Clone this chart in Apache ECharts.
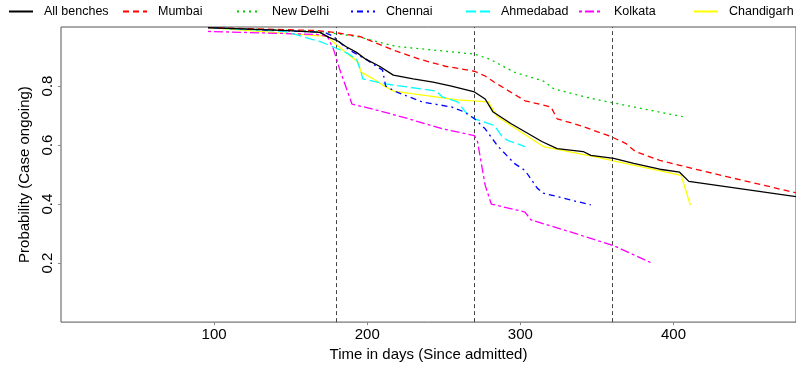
<!DOCTYPE html>
<html>
<head>
<meta charset="utf-8">
<script src="https://cdn.jsdelivr.net/npm/echarts@6/dist/echarts.min.js"></script>
<style>
  html, body { margin: 0; padding: 0; background: #fff; }
  #chart { width: 796px; height: 367px; }
</style>
</head>
<body>
<div id="chart"></div>
<script>
// survival curves, [day, probability]
const allBenches = [[96,0.998],[148,0.988],[169,0.982],[175,0.965],[180,0.955],[186,0.934],[193,0.914],[199,0.891],[208,0.867],[217,0.837],[230,0.824],[243,0.813],[255,0.800],[270,0.780],[277,0.756],[282,0.713],[294,0.672],[305,0.639],[314,0.612],[324,0.588],[341,0.578],[346,0.565],[361,0.555],[374,0.538],[391,0.518],[404,0.508],[410,0.477],[480,0.425]];
const mumbai = [[96,0.998],[167,0.988],[178,0.982],[195,0.968],[208,0.941],[219,0.918],[234,0.891],[251,0.867],[270,0.850],[277,0.834],[283,0.813],[303,0.750],[320,0.729],[324,0.689],[339,0.666],[359,0.629],[369,0.605],[375,0.578],[391,0.548],[412,0.521],[434,0.494],[480,0.438]];
const newDelhi = [[96,0.998],[169,0.985],[193,0.968],[219,0.934],[245,0.921],[270,0.908],[280,0.891],[296,0.847],[315,0.817],[322,0.790],[348,0.756],[380,0.723],[406,0.696]];
const chennai = [[96,0.998],[172,0.982],[178,0.968],[185,0.934],[191,0.914],[199,0.891],[206,0.867],[210,0.854],[212,0.800],[219,0.780],[236,0.746],[255,0.729],[263,0.713],[270,0.689],[277,0.655],[285,0.598],[296,0.538],[303,0.514],[311,0.454],[315,0.437],[346,0.397]];
const ahmedabad = [[96,0.998],[146,0.985],[169,0.951],[177,0.934],[186,0.914],[193,0.891],[196,0.847],[197,0.824],[212,0.807],[245,0.783],[249,0.763],[259,0.746],[264,0.713],[270,0.689],[283,0.666],[288,0.629],[292,0.615],[303,0.595]];
const kolkata = [[96,0.985],[167,0.975],[174,0.968],[178,0.924],[182,0.857],[190,0.739],[208,0.716],[227,0.689],[249,0.655],[270,0.632],[272,0.612],[277,0.464],[281,0.400],[303,0.373],[307,0.346],[328,0.313],[361,0.259],[385,0.202]];
const chandigarh = [[96,0.998],[174,0.968],[178,0.948],[186,0.914],[194,0.881],[196,0.847],[204,0.824],[212,0.797],[217,0.783],[259,0.753],[279,0.746],[285,0.696],[315,0.595],[348,0.561],[405,0.497],[411,0.397]];

const cutDays = [180, 270, 360];
const xTickLabels = [100, 200, 300, 400];
const yTickLabels = [0.2, 0.4, 0.6, 0.8];

const names = ['All benches', 'Mumbai', 'New Delhi', 'Chennai', 'Ahmedabad', 'Kolkata', 'Chandigarh'];
const curves = [allBenches, mumbai, newDelhi, chennai, ahmedabad, kolkata, chandigarh];
const colors = ['#000000', '#FF0000', '#00CD00', '#0000FF', '#00FFFF', '#FF00FF', '#FFFF00'];
const dashes = ['solid', [6, 4], [2, 4], [2, 4, 6, 4], [10, 4], [3, 3, 9, 3], 'solid'];
const legendLeft = [8, 122, 236, 350, 465, 578, 693];

const font = 'Liberation Sans, Arial, sans-serif';

const series = names.map((n, i) => ({
  name: n,
  type: 'line',
  data: curves[i],
  symbol: 'none',
  z: 10 - i,
  lineStyle: { color: colors[i], width: 1.3, type: dashes[i] },
  itemStyle: { color: colors[i] }
}));

series[0].markLine = {
  silent: true,
  symbol: 'none',
  label: { show: false },
  lineStyle: { color: '#444', type: [4, 3], width: 1 },
  data: cutDays.map(d => ({ xAxis: d }))
};

const legends = names.map((n, i) => ({
  data: [n],
  left: legendLeft[i],
  top: 5,
  padding: 0,
  itemWidth: 24,
  itemHeight: 14,
  itemStyle: { opacity: 0 },
  textStyle: { fontFamily: font, fontSize: 12.5, color: '#000', padding: [0, 0, 0, 6] }
}));

const chart = echarts.init(document.getElementById('chart'), null, { renderer: 'canvas' });
chart.setOption({
  animation: false,
  color: colors,
  legend: legends,
  grid: { left: 61, top: 27, right: -9, bottom: 42, show: true, borderColor: '#555', borderWidth: 1 },
  xAxis: {
    type: 'value',
    min: 0,
    max: 480,
    interval: 100,
    name: 'Time in days (Since admitted)',
    nameLocation: 'middle',
    nameGap: 22,
    nameTextStyle: { fontFamily: font, fontSize: 15, color: '#000' },
    axisLine: { show: false },
    axisTick: { show: true, length: 3, customValues: xTickLabels, lineStyle: { color: '#888' } },
    splitLine: { show: false },
    axisLabel: {
      margin: 5,
      customValues: xTickLabels,
      fontFamily: font, fontSize: 15, color: '#000'
    }
  },
  yAxis: {
    type: 'value',
    min: 0,
    max: 1,
    interval: 0.2,
    name: 'Probability (Case ongoing)',
    nameLocation: 'middle',
    nameGap: 21,
    nameTextStyle: { fontFamily: font, fontSize: 15, color: '#000' },
    axisLine: { show: false },
    axisTick: { show: true, length: 3, customValues: yTickLabels, lineStyle: { color: '#888' } },
    splitLine: { show: false },
    axisLabel: {
      rotate: 90,
      margin: 6,
      customValues: yTickLabels,
      fontFamily: font, fontSize: 15, color: '#000',
      formatter: v => v.toFixed(1)
    }
  },
  series: series
});
</script>
</body>
</html>
